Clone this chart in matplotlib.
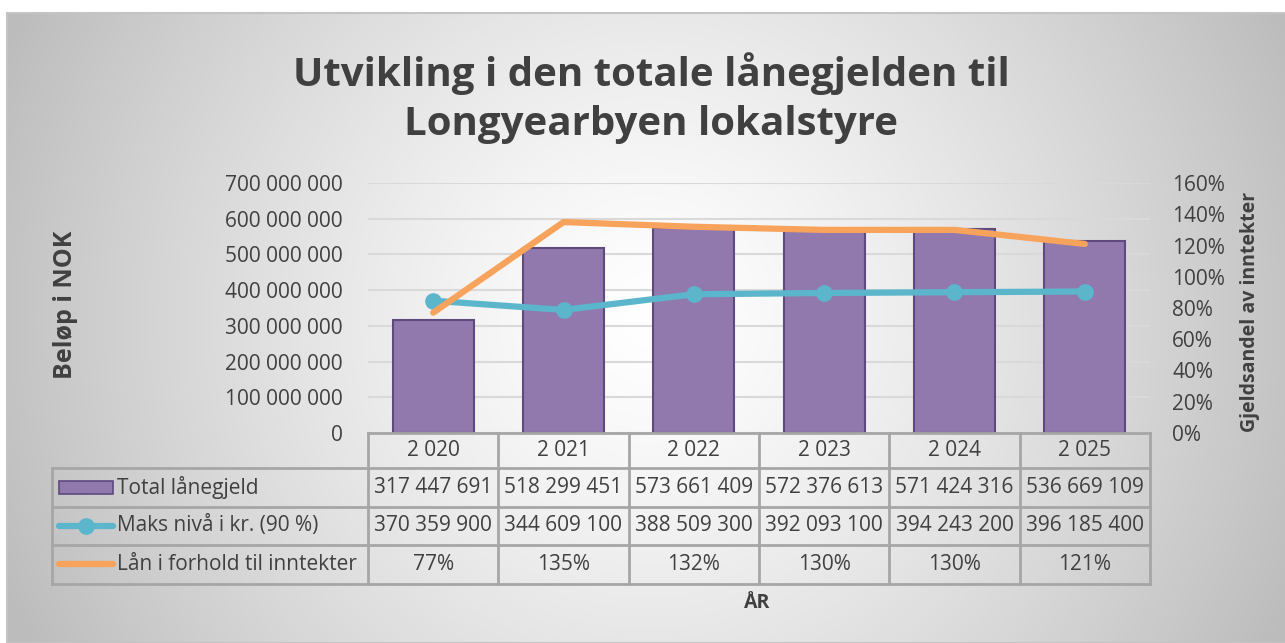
import numpy as np
import matplotlib
matplotlib.use("Agg")
import matplotlib.pyplot as plt
from matplotlib.transforms import blended_transform_factory
from matplotlib.lines import Line2D
from matplotlib.patches import Rectangle

plt.rcParams['font.family'] = ['Open Sans', 'DejaVu Sans']

years = ["2 020", "2 021", "2 022", "2 023", "2 024", "2 025"]
total_gjeld = [317447691, 518299451, 573661409, 572376613, 571424316, 536669109]
maks_niva = [370359900, 344609100, 388509300, 392093100, 394243200, 396185400]
andel = [0.77, 1.35, 1.32, 1.30, 1.30, 1.21]
serie_navn = ["Total lånegjeld", "Maks nivå i kr. (90 %)", "Lån i forhold til inntekter"]

TXT = "#404040"
PURPLE = "#9179ae"
PURPLE_EDGE = "#5e4a7e"
BLUE = "#5bb6cc"
ORANGE = "#f8a35c"
GRID = "#d9d9d9"
CELL = "#a6a6a6"
FS = 15

W, H = 1285, 643
fig = plt.figure(figsize=(W / 100, H / 100), dpi=100)

# radial gradient background of the chart area
bg = fig.add_axes([7 / W, 0, 1 - 7 / W, 1 - 13 / H], zorder=-10)
gx, gy = np.meshgrid(np.linspace(7, W, 600), np.linspace(13, H, 300))
d = np.hypot(gx - 650, gy - 320) / 700.0
g = 1.0 - 0.26 * np.clip(d, 0, 1) ** 1.3
bg.imshow(np.dstack([g, g, g]), aspect="auto", extent=[0, 1, 0, 1], origin="upper")
bg.set_xlim(0, 1)
bg.set_ylim(0, 1)
bg.axis("off")
fig.patches.append(Rectangle((7 / W, 0), 1, 1 - 13 / H, transform=fig.transFigure,
                             fill=False, ec="#c4c4c4", lw=1.5))

L, R, T, B = 368, 1150, 183, 433
ax = fig.add_axes([L / W, 1 - B / H, (R - L) / W, (B - T) / H])
ax.patch.set_visible(False)
x = np.arange(len(years))
ax.bar(x, total_gjeld, width=0.62, color=PURPLE, edgecolor=PURPLE_EDGE, lw=1.5, zorder=2)
ax.plot(x, maks_niva, color=BLUE, lw=4.5, marker="o", ms=11, zorder=3, solid_capstyle="round")
ax.set_xlim(-0.5, len(years) - 0.5)
ax.set_ylim(0, 700000000)
ax.set_yticks(np.arange(0, 700000001, 100000000))
ax.yaxis.set_major_formatter(lambda v, p: f"{v:,.0f}".replace(",", " "))
ax.set_xticks([])
ax.grid(axis="y", color=GRID, lw=1.5, zorder=0)
ax.set_axisbelow(True)
for s in ax.spines.values():
    s.set_visible(False)
ax.tick_params(axis="y", length=0, labelsize=FS, labelcolor=TXT, pad=18)

ax2 = ax.twinx()
ax2.plot(x, andel, color=ORANGE, lw=4.5, solid_capstyle="round", zorder=3)
ax2.set_ylim(0, 1.6)
ax2.set_yticks(np.arange(0, 1.61, 0.2))
ax2.yaxis.set_major_formatter(lambda v, p: f"{v * 100:.0f}%")
for s in ax2.spines.values():
    s.set_visible(False)
ax2.tick_params(axis="y", length=0, labelsize=FS, labelcolor=TXT, pad=16)

fig.text(65 / W, 1 - 305 / H, "Beløp i NOK", rotation=90, ha="center", va="center",
         fontsize=18, fontweight="bold", color=TXT)
fig.text(1250 / W, 1 - 312 / H, "Gjeldsandel av inntekter", rotation=90, ha="center",
         va="center", fontsize=14, fontweight="bold", color=TXT)
fig.text(651 / W, 1 - 98 / H, "Utvikling i den totale lånegjelden til\nLongyearbyen lokalstyre",
         ha="center", va="center", fontsize=29, fontweight="bold", color=TXT, linespacing=1.35)
fig.text(757 / W, 1 - 603 / H, "ÅR", ha="center", va="center", fontsize=14,
         fontweight="bold", color=TXT)

# data table below the plot
rows_px = [433, 468, 506.5, 545, 583.5]
ry = [-(p - B) / (B - T) for p in rows_px]
lx = (52 - L) / (R - L)
tb = blended_transform_factory(ax.transData, ax.transAxes)
ta = ax.transAxes
kw = dict(color=CELL, lw=2, clip_on=False, zorder=5)
n = len(years)
ax.add_line(Line2D([-0.5, n - 0.5], [ry[0], ry[0]], transform=tb, **kw))
ax.add_line(Line2D([-0.5, n - 0.5], [ry[1], ry[1]], transform=tb, **kw))
for yv in ry[2:]:
    ax.add_line(Line2D([lx, 1], [yv, yv], transform=ta, **kw))
ax.add_line(Line2D([lx, 0], [ry[1], ry[1]], transform=ta, **kw))
ax.add_line(Line2D([lx, lx], [ry[1], ry[-1]], transform=ta, **kw))
for i in range(n + 1):
    ax.add_line(Line2D([i - 0.5, i - 0.5], [ry[0], ry[-1]], transform=tb, **kw))

def mid(i):
    return (ry[i] + ry[i + 1]) / 2

for i, yr in enumerate(years):
    ax.text(i, mid(0), yr, transform=tb, ha="center", va="center", fontsize=FS, color=TXT)
    ax.text(i, mid(1), f"{total_gjeld[i]:,}".replace(",", " "), transform=tb,
            ha="center", va="center", fontsize=FS, color=TXT)
    ax.text(i, mid(2), f"{maks_niva[i]:,}".replace(",", " "), transform=tb,
            ha="center", va="center", fontsize=FS, color=TXT)
    ax.text(i, mid(3), f"{andel[i] * 100:.0f}%", transform=tb,
            ha="center", va="center", fontsize=FS, color=TXT)

# legend keys in the row header column
sx0, sx1 = (59 - L) / (R - L), (113 - L) / (R - L)
ax.add_patch(Rectangle((sx0, mid(1) - 0.025), sx1 - sx0, 0.05, transform=ta,
                       fc=PURPLE, ec=PURPLE_EDGE, lw=1.2, clip_on=False))
ax.add_line(Line2D([sx0, sx1], [mid(2), mid(2)], transform=ta, color=BLUE, lw=4.5,
                   solid_capstyle="round", clip_on=False))
ax.add_line(Line2D([(sx0 + sx1) / 2], [mid(2)], transform=ta, color=BLUE, marker="o",
                   ms=11, clip_on=False))
ax.add_line(Line2D([sx0, sx1], [mid(3), mid(3)], transform=ta, color=ORANGE, lw=4.5,
                   solid_capstyle="round", clip_on=False))
tx = (117 - L) / (R - L)
for k, name in enumerate(serie_navn):
    ax.text(tx, mid(k + 1), name, transform=ta, ha="left", va="center",
            fontsize=FS, color=TXT)

fig.savefig("out.png", dpi=100)
